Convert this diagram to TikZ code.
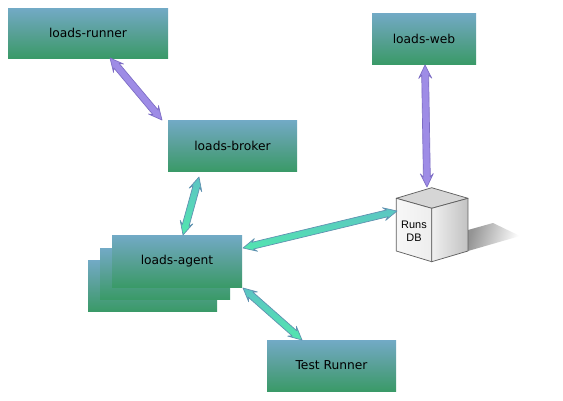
\documentclass[tikz,border=0pt]{standalone}
\usepackage{fontspec}
\setmainfont{DejaVu Sans}
\newfontfamily\dbfont{Liberation Sans}
\usetikzlibrary{calc}
\definecolor{boxtop}{HTML}{72AAC6}
\definecolor{boxmid}{HTML}{58A096}
\definecolor{boxbot}{HTML}{3A9A68}
\definecolor{arrA}{HTML}{5CC4C4}
\definecolor{arrB}{HTML}{52E6AE}
\definecolor{arredge}{HTML}{5F8FB0}
\definecolor{purpfill}{HTML}{9E8CE6}
\definecolor{purpedge}{HTML}{7C6CC4}
\definecolor{cubeline}{HTML}{606060}
\tikzset{
  box/.style={draw=none,minimum width=#1,inner sep=0pt,outer sep=0pt,top color=boxtop,bottom color=boxbot,middle color=boxmid,text=black,font=\fontsize{9.2pt}{11pt}\selectfont},
  greenarrow/.style={draw=arredge,line width=0.5pt,line join=round,left color=arrA,right color=arrB,shading angle=#1},
  purplearrow/.style={draw=purpedge,line width=0.5pt,line join=round,fill=purpfill},
  cubeedge/.style={draw=cubeline,line width=0.55pt,line join=round},
}
\newcommand{\dblarrow}[3]{%
  \draw[#3]
    (#1)
    -- ($(#1)!10pt!(#2)!4.9pt!90:(#2)$)
    -- ($(#1)!7.5pt!(#2)!2.6pt!90:(#2)$)
    -- ($(#2)!7.5pt!(#1)!2.6pt!-90:(#1)$)
    -- ($(#2)!10pt!(#1)!4.9pt!-90:(#1)$)
    -- (#2)
    -- ($(#2)!10pt!(#1)!4.9pt!90:(#1)$)
    -- ($(#2)!7.5pt!(#1)!2.6pt!90:(#1)$)
    -- ($(#1)!7.5pt!(#2)!2.6pt!-90:(#2)$)
    -- ($(#1)!10pt!(#2)!4.9pt!-90:(#2)$)
    -- cycle;
}
\begin{document}
\begin{tikzpicture}[x=0.75pt,y=-0.75pt]
\useasboundingbox (0,0) rectangle (563,400);
\fill[white] (0,0) rectangle (563,400);
% boxes
\node[box=120pt,minimum height=37.5pt,anchor=north west] (runner) at (8,8) {loads-runner};
\node[box=78pt,minimum height=38.25pt,anchor=north west] (web) at (372,13) {loads-web};
\node[box=96.75pt,minimum height=38.25pt,anchor=north west] (broker) at (168,120) {loads-broker};
\node[box=96.75pt,minimum height=38.25pt,anchor=north west] (agentc) at (88,260) {};
\node[box=97.5pt,minimum height=38.25pt,anchor=north west] (agentb) at (100,248) {};
\node[box=97.5pt,minimum height=39pt,anchor=north west] (agent) at (112,235) {loads-agent};
\node[box=96.75pt,minimum height=38.25pt,anchor=north west] (test) at (267,340) {Test Runner};
% shadow
\shade[left color=black!42,right color=white,shading angle=75] (468,230) -- (493,223) -- (520,236) -- (468,251) -- cycle;
% cube
\coordinate (ct) at (431.7,187.7);
\coordinate (cl) at (396.3,198.3);
\coordinate (cr) at (468,198.3);
\coordinate (cf) at (431.7,208.3);
\coordinate (cb) at (431.7,261.7);
\coordinate (clb) at (396.3,251);
\coordinate (crb) at (468,251);
\path[cubeedge,fill=black!16] (ct) -- (cr) -- (cf) -- (cl) -- cycle;
\path[cubeedge,left color=black!3,right color=black!7] (cl) -- (cf) -- (cb) -- (clb) -- cycle;
\path[cubeedge,left color=black!6,right color=black!24] (cf) -- (cr) -- (crb) -- (cb) -- cycle;
\node[font=\dbfont\fontsize{8.2pt}{10pt}\selectfont,align=center,inner sep=0pt] (db) at (414,231) {Runs\\DB};
% connector ends
\coordinate (runnerEnd) at (110,58);
\coordinate (brokerA) at (162,120);
\coordinate (webEnd) at (425,65);
\coordinate (dbTop) at (427,187);
\coordinate (brokerB) at (199,177);
\coordinate (agentTop) at (183,235);
\coordinate (agentR) at (243,248);
\coordinate (dbLeft) at (397,211);
\coordinate (agentBR) at (243,288);
\coordinate (testTop) at (302,340);
% arrows
\dblarrow{runnerEnd}{brokerA}{purplearrow}
\dblarrow{webEnd}{dbTop}{purplearrow}
\dblarrow{brokerB}{agentTop}{greenarrow=0}
\dblarrow{agentR}{dbLeft}{greenarrow=0}
\dblarrow{agentBR}{testTop}{greenarrow=0}
\end{tikzpicture}
\end{document}
